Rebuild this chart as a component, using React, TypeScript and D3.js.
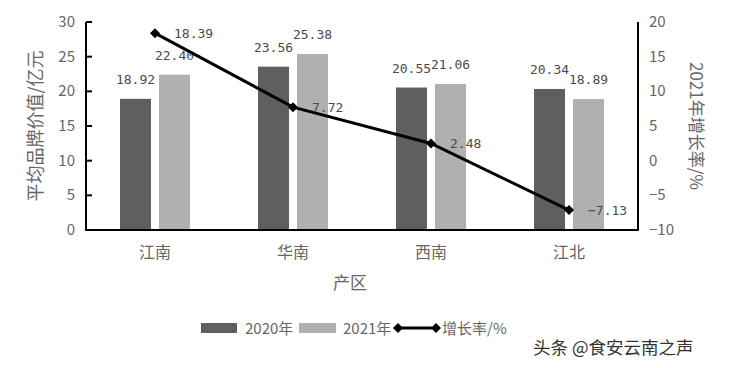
import React from "react";
import * as d3 from "d3";

const categories = ["江南", "华南", "西南", "江北"];
const values2020 = [18.92, 23.56, 20.55, 20.34];
const values2021 = [22.4, 25.38, 21.06, 18.89];
const growth = [18.39, 7.72, 2.48, -7.13];
const leftTicks = [0, 5, 10, 15, 20, 25, 30];
const rightTicks = [-10, -5, 0, 5, 10, 15, 20];

const W = 740;
const H = 368;
const left = 86;
const right = 638;
const top = 22;
const bottom = 230;

const FONT = "'Noto Sans CJK SC', 'Noto Sans', sans-serif";
const MONO = "'DejaVu Sans Mono', 'Liberation Mono', monospace";

export default function App() {
  const x = d3.scaleBand<string>().domain(categories).range([left, right]);
  const yL = d3.scaleLinear().domain([0, 30]).range([bottom, top]);
  const yR = d3.scaleLinear().domain([-10, 20]).range([bottom, top]);
  const barW = 31;
  const gap = 8;
  const cx = (c: string) => (x(c) as number) + x.bandwidth() / 2;
  const line = d3
    .line<number>()
    .x((_, i) => cx(categories[i]))
    .y((d) => yR(d));
  const diamond = (px: number, py: number, r: number) =>
    `M${px},${py - r}L${px + r},${py}L${px},${py + r}L${px - r},${py}Z`;
  const fmtR = (v: number) => (v < 0 ? "−" + Math.abs(v) : String(v));

  return (
    <svg
      width={W}
      height={H}
      style={{ position: "absolute", left: 0, top: 0, background: "#fff" }}
    >
      {/* bars */}
      {categories.map((c, i) => {
        const c0 = cx(c);
        const x1 = c0 - gap / 2 - barW;
        const x2 = c0 + gap / 2;
        return (
          <g key={c}>
            <rect x={x1} y={yL(values2020[i])} width={barW} height={bottom - yL(values2020[i])} fill="#5f5f5f" />
            <rect x={x2} y={yL(values2021[i])} width={barW} height={bottom - yL(values2021[i])} fill="#b0b0b0" />
            <text x={x1 + barW / 2} y={yL(values2020[i]) - 15} textAnchor="middle" fontFamily={MONO} fontSize={13} fill="#4a4a4a">
              {values2020[i].toFixed(2)}
            </text>
            <text x={x2 + barW / 2} y={yL(values2021[i]) - 15} textAnchor="middle" fontFamily={MONO} fontSize={13} fill="#4a4a4a">
              {values2021[i].toFixed(2)}
            </text>
          </g>
        );
      })}

      {/* axes */}
      <line x1={left} x2={left} y1={top} y2={bottom + 1} stroke="#000" strokeWidth={2} />
      <line x1={left - 1} x2={right + 1} y1={bottom} y2={bottom} stroke="#000" strokeWidth={2} />
      <line x1={right} x2={right} y1={top} y2={bottom + 1} stroke="#000" strokeWidth={2} />
      {leftTicks.map((t) => (
        <g key={"l" + t}>
          <line x1={left} x2={left + 6} y1={yL(t)} y2={yL(t)} stroke="#000" strokeWidth={2} />
          <text x={left - 11} y={yL(t) + 5} textAnchor="end" fontFamily={FONT} fontSize={15} fill="#666">
            {t}
          </text>
        </g>
      ))}
      {rightTicks.map((t) => (
        <text key={"r" + t} x={right + 11} y={yR(t) + 5} textAnchor="start" fontFamily={FONT} fontSize={15} fill="#666">
          {fmtR(t)}
        </text>
      ))}
      {categories.map((c) => (
        <text key={"c" + c} x={cx(c)} y={258} textAnchor="middle" fontFamily={FONT} fontSize={16} fill="#666">
          {c}
        </text>
      ))}

      {/* line */}
      <path d={line(growth) as string} fill="none" stroke="#000" strokeWidth={3} />
      {growth.map((g, i) => (
        <g key={"g" + i}>
          <path d={diamond(cx(categories[i]), yR(g), 5)} fill="#000" />
          <text x={cx(categories[i]) + 19} y={yR(g) + 5} fontFamily={MONO} fontSize={13} fill="#4a4a4a">
            {g < 0 ? "−" + Math.abs(g).toFixed(2) : g.toFixed(2)}
          </text>
        </g>
      ))}

      {/* axis titles */}
      <text transform="translate(42,126) rotate(-90)" textAnchor="middle" fontFamily={FONT} fontSize={18} fill="#666">
        平均品牌价值/亿元
      </text>
      <text transform="translate(690,126) rotate(90)" textAnchor="middle" fontFamily={FONT} fontSize={17} fill="#666">
        2021年增长率/%
      </text>
      <text x={350} y={289} textAnchor="middle" fontFamily={FONT} fontSize={17} fill="#666">
        产区
      </text>

      {/* legend */}
      <rect x={201} y={323} width={36} height={10} fill="#5f5f5f" />
      <text x={245} y={334} fontFamily={FONT} fontSize={15} fill="#666">2020年</text>
      <rect x={299} y={323} width={37} height={10} fill="#b0b0b0" />
      <text x={343} y={334} fontFamily={FONT} fontSize={15} fill="#666">2021年</text>
      <line x1={398} x2={436} y1={328} y2={328} stroke="#000" strokeWidth={3} />
      <path d={diamond(398, 328, 5)} fill="#000" />
      <path d={diamond(436, 328, 5)} fill="#000" />
      <text x={442} y={334} fontFamily={FONT} fontSize={15} fill="#666">增长率/%</text>

      {/* watermark */}
      <text x={533} y={354} fontFamily={FONT} fontSize={17.5} fill="#333">
        头条 @食安云南之声
      </text>
    </svg>
  );
}
